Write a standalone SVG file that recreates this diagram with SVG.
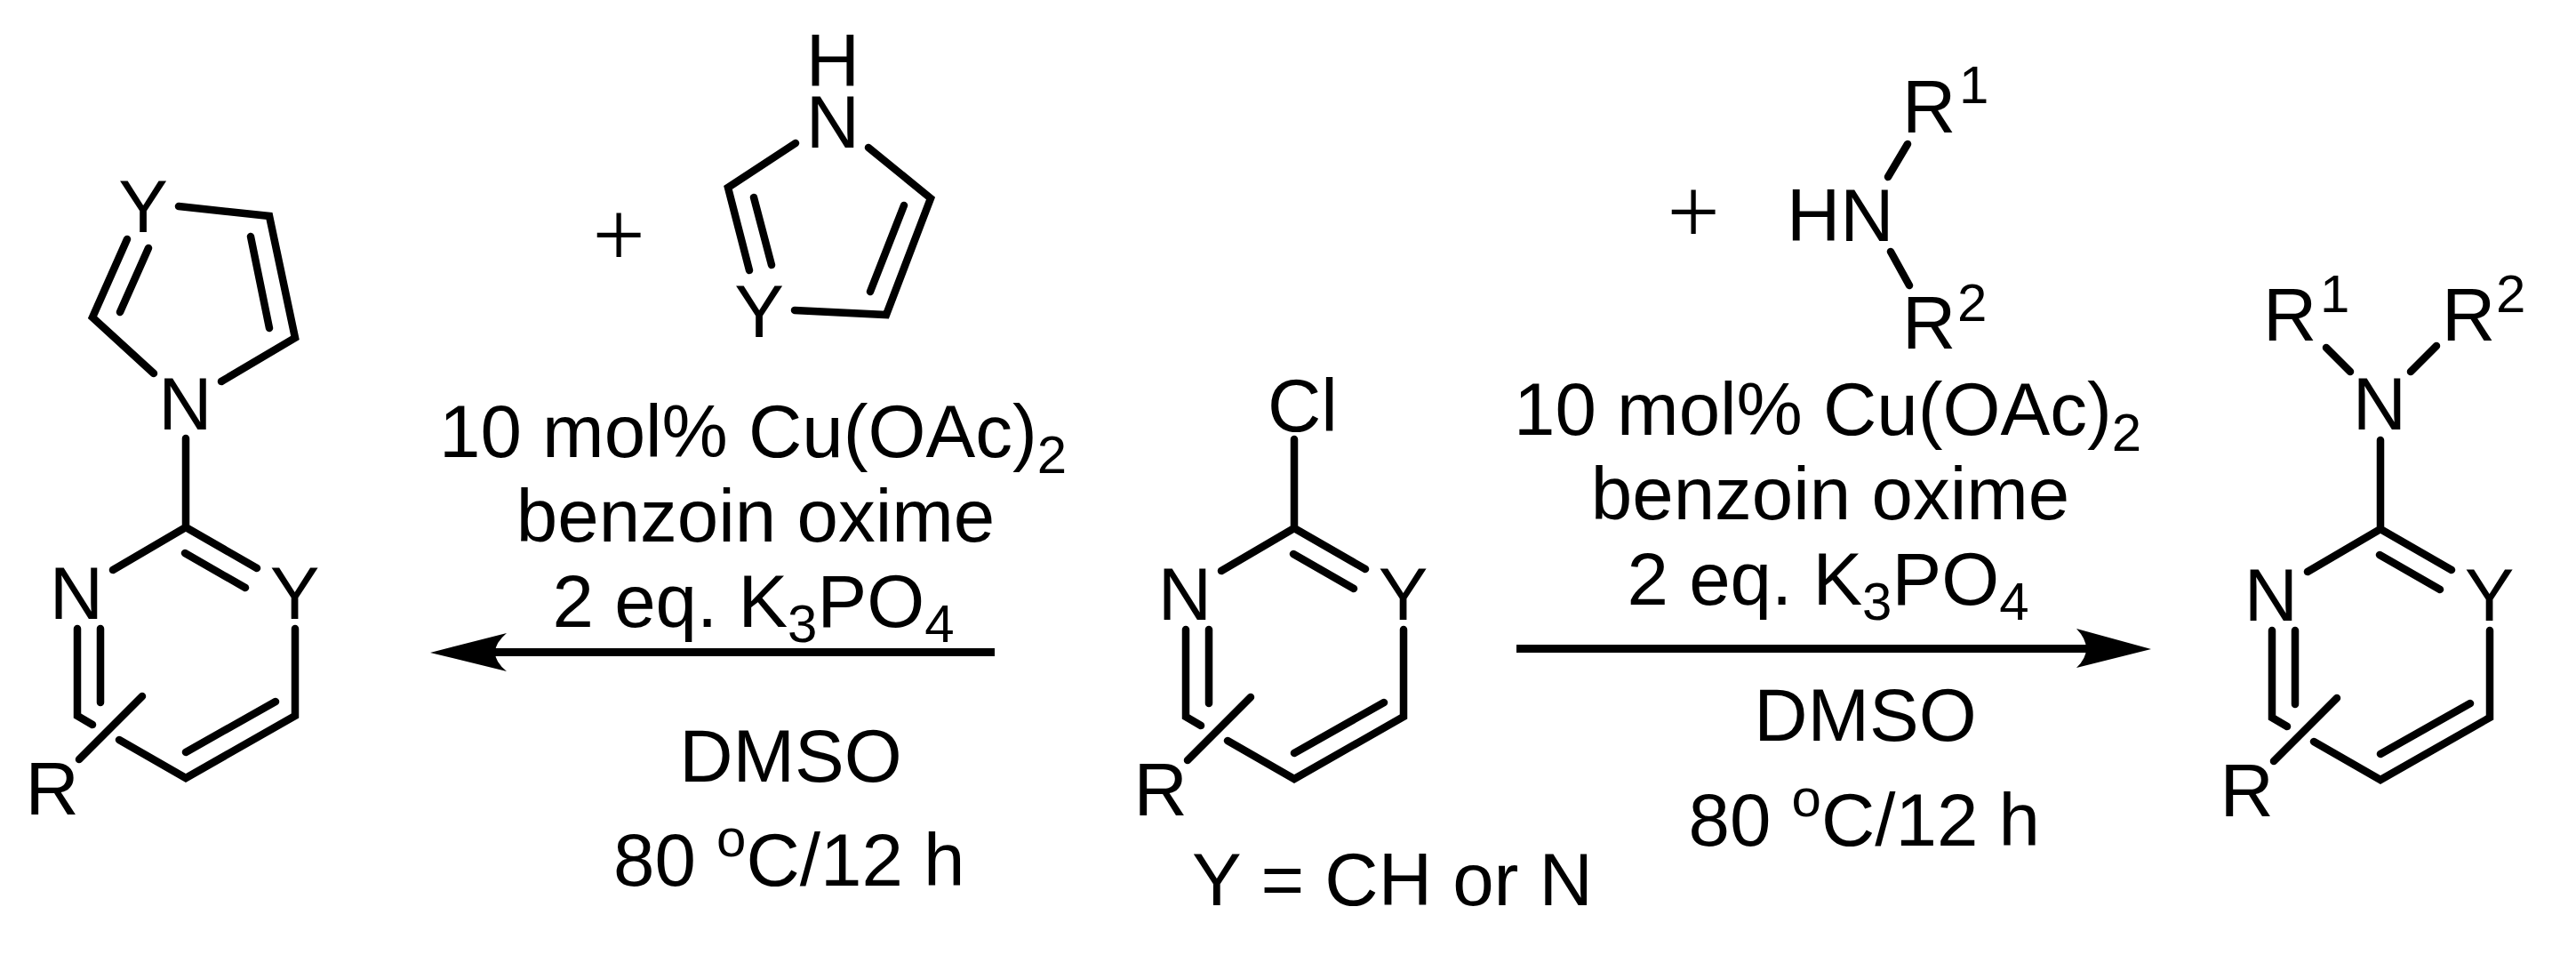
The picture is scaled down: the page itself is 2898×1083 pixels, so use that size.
<svg xmlns="http://www.w3.org/2000/svg" width="2898" height="1083" viewBox="0 0 2898 1083">
<style>
text{font-family:"Liberation Sans",Arial,sans-serif;font-size:83.5px;fill:#000;text-anchor:middle}
.l{text-anchor:start}
.b{fill:none;stroke:#000;stroke-width:8.5;stroke-linecap:round;stroke-linejoin:miter}
.s{font-size:60px}
.p{font-family:"Liberation Serif",serif;font-size:105px}
.a{fill:none;stroke:#000;stroke-width:9}
</style>
<defs>
<g id="ring">
<path class="b" d="M209 493V593L127 641M209 593L289 639M208 622L276 661M332 707V805L209 875L134 832M310 789L209 846M87 707V805L104 815M113 707V790M160 783L89 854"/>
<text x="86" y="696">N</text><text x="331.500" y="696">Y</text><text class="l" x="28.500" y="916">R</text>
</g>
</defs>
<rect width="2898" height="1083" fill="#fff"/>
<g id="product-left">
<use href="#ring"/>
<path class="b" d="M173 420L104 357L143 269M135 351L167 279M201 232L303 243L332 380L249 429M282 266L303 369"/>
<text x="208.500" y="483">N</text><text x="161" y="261">Y</text>
</g>
<g id="reagent-azole">
<text class="p" x="696" y="300">+</text>
<text x="937" y="97">H</text><text x="937" y="166">N</text><text x="854" y="379">Y</text>
<path class="b" d="M895 161L819 211L843 304M848 222L868 298M977 166L1047 223L997 354L894 349M1017 231L979 328"/>
</g>
<g id="conditions-left">
<text class="l" x="494" y="514">10 mol% Cu(OAc)<tspan class="s" dy="18">2</tspan></text>
<text x="850" y="609">benzoin oxime</text>
<text class="l" x="621.500" y="705">2 eq. K<tspan class="s" dy="17">3</tspan><tspan dy="-17">PO</tspan><tspan class="s" dy="17">4</tspan></text>
<text x="889.500" y="879">DMSO</text>
<text class="l" x="690" y="996">80 <tspan class="s" dy="-33">o</tspan><tspan dy="33">C/12 h</tspan></text>
</g>
<g id="substrate">
<use href="#ring" transform="translate(1247 1)"/>
<text class="l" x="1426" y="485">Cl</text>
<text class="l" x="1341" y="1018">Y = CH or N</text>
</g>
<g id="conditions-right">
<text class="l" x="1703" y="489">10 mol% Cu(OAc)<tspan class="s" dy="18">2</tspan></text>
<text x="2059" y="584">benzoin oxime</text>
<text class="l" x="1830.500" y="680">2 eq. K<tspan class="s" dy="17">3</tspan><tspan dy="-17">PO</tspan><tspan class="s" dy="17">4</tspan></text>
<text x="2098.500" y="833">DMSO</text>
<text class="l" x="1899.500" y="951">80 <tspan class="s" dy="-33">o</tspan><tspan dy="33">C/12 h</tspan></text>
</g>
<g id="reagent-amine">
<text class="p" x="1905" y="274">+</text>
<text class="l" x="2010" y="271">HN</text>
<text class="l" x="2140" y="149">R</text><text class="l s" x="2204" y="116">1</text>
<text class="l" x="2140" y="392">R</text><text class="l s" x="2202" y="361">2</text>
<path class="b" d="M2146 162L2124 199M2127 283L2148 321"/>
</g>
<g id="product-right">
<use href="#ring" transform="translate(2469 2)"/>
<text x="2677" y="483">N</text>
<text class="l" x="2546" y="383">R</text><text class="l s" x="2610" y="351">1</text>
<text class="l" x="2747" y="383">R</text><text class="l s" x="2808" y="351">2</text>
<path class="b" d="M2617 391L2644 418M2741 389L2712 418"/>
</g>
<g id="connectors">
<path class="a" d="M1119 733.500H550"/>
<path d="M484 734L570 712Q544 734 570 755Z"/>
<path class="a" d="M1706 729.500H2350"/>
<path d="M2420 730L2336 707Q2358 730 2336 751Z"/>
</g>
</svg>
